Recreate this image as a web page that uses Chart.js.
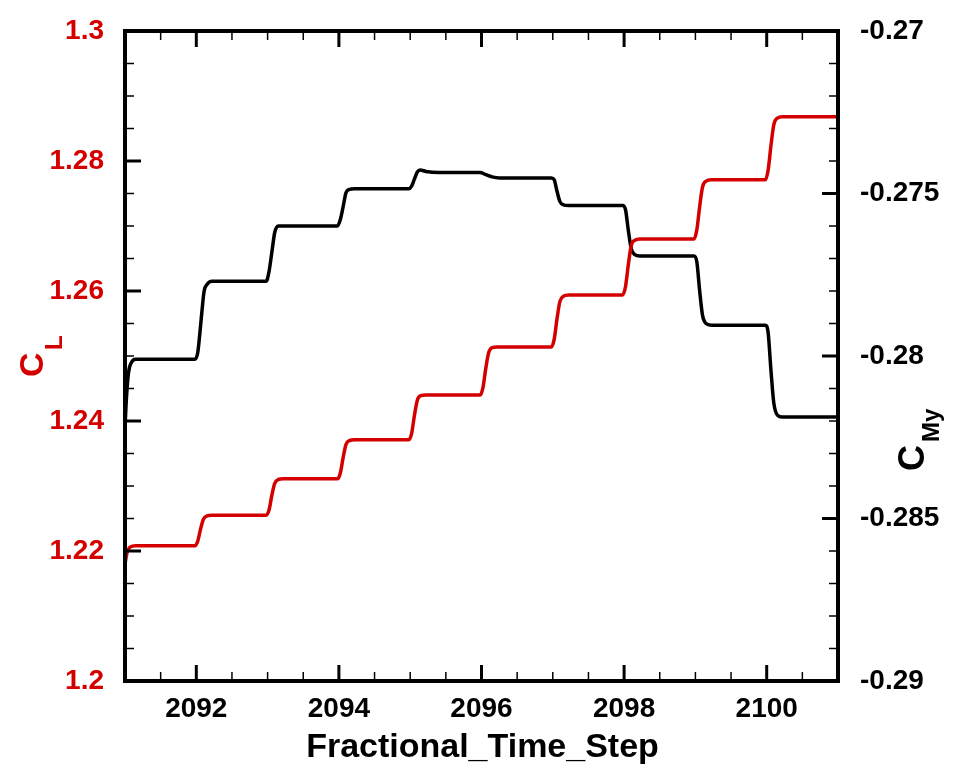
<!DOCTYPE html>
<html>
<head>
<meta charset="utf-8">
<script src="https://cdn.jsdelivr.net/npm/chart.js@4.4.0/dist/chart.umd.min.js"></script>
<style>
  body { margin: 0; background: #fff; }
</style>
</head>
<body>
<canvas id="lineChart" width="959" height="766"></canvas>
<script>
// lift coefficient C_L (left axis)
var tCL = [2091.00, 2091.03, 2091.07, 2091.15,
  2091.98, 2092.02, 2092.06, 2092.10, 2092.15, 2092.22,
  2092.98, 2093.02, 2093.06, 2093.10, 2093.15, 2093.22,
  2093.98, 2094.02, 2094.06, 2094.10, 2094.15, 2094.22,
  2094.98, 2095.02, 2095.06, 2095.10, 2095.15, 2095.22,
  2095.98, 2096.02, 2096.06, 2096.10, 2096.15, 2096.22,
  2096.98, 2097.02, 2097.06, 2097.10, 2097.15, 2097.22,
  2097.98, 2098.02, 2098.06, 2098.10, 2098.15, 2098.22,
  2098.98, 2099.02, 2099.06, 2099.10, 2099.15, 2099.22,
  2099.98, 2100.02, 2100.06, 2100.10, 2100.15, 2100.22,
  2101.00];
var cl = [1.2180, 1.2198, 1.2206, 1.2208,
  1.2208, 1.2215, 1.2234, 1.2249, 1.2254, 1.2255,
  1.2255, 1.2263, 1.2286, 1.2304, 1.2310, 1.2311,
  1.2311, 1.2320, 1.2344, 1.2364, 1.2370, 1.2371,
  1.2371, 1.2381, 1.2409, 1.2432, 1.2439, 1.2440,
  1.2440, 1.2451, 1.2481, 1.2505, 1.2513, 1.2514,
  1.2514, 1.2526, 1.2558, 1.2584, 1.2592, 1.2594,
  1.2594, 1.2607, 1.2641, 1.2670, 1.2678, 1.2680,
  1.2680, 1.2694, 1.2730, 1.2760, 1.2769, 1.2771,
  1.2771, 1.2786, 1.2824, 1.2856, 1.2866, 1.2868,
  1.2868];

// pitching moment C_My (right axis)
var tCMy = [2091.00, 2091.02, 2091.05, 2091.09, 2091.15,
  2091.98, 2092.02, 2092.05, 2092.08, 2092.11, 2092.15, 2092.22,
  2092.98, 2093.02, 2093.06, 2093.10, 2093.15, 2093.22,
  2093.98, 2094.02, 2094.06, 2094.10, 2094.15, 2094.22,
  2094.98, 2095.02, 2095.06, 2095.10, 2095.14, 2095.22, 2095.40,
  2095.98, 2096.05, 2096.15, 2096.25,
  2096.98, 2097.02, 2097.06, 2097.10, 2097.15, 2097.22,
  2097.98, 2098.02, 2098.06, 2098.10, 2098.15, 2098.22,
  2098.98, 2099.02, 2099.06, 2099.10, 2099.15, 2099.22,
  2099.98, 2100.02, 2100.06, 2100.10, 2100.15, 2100.22,
  2101.00];
var cmy = [-0.2822, -0.2813, -0.2805, -0.2802, -0.2801,
  -0.2801, -0.2799, -0.2793, -0.2786, -0.2780, -0.2778, -0.2777,
  -0.2777, -0.2774, -0.2768, -0.2762, -0.2760, -0.2760,
  -0.2760, -0.2758, -0.2754, -0.27497, -0.27487, -0.27485,
  -0.27485, -0.27477, -0.27455, -0.27434, -0.27428, -0.27432, -0.27435,
  -0.27435, -0.27441, -0.27449, -0.27452,
  -0.27452, -0.27458, -0.27494, -0.27525, -0.27535, -0.27537,
  -0.27537, -0.27550, -0.27615, -0.27670, -0.27688, -0.27692,
  -0.27692, -0.27710, -0.27800, -0.27875, -0.27900, -0.27905,
  -0.27905, -0.27928, -0.28045, -0.28145, -0.28182, -0.28188,
  -0.28188];

var xTicks = [2092, 2094, 2096, 2098, 2100];
var clTicks = [1.2, 1.22, 1.24, 1.26, 1.28, 1.3];
var cmyTicks = [-0.29, -0.285, -0.28, -0.275, -0.27];

var RED = '#d40000';
var FONT = "'Liberation Sans', Arial, sans-serif";

function pts(xs, ys) {
  return xs.map(function (v, i) { return { x: v, y: ys[i] }; });
}
function fmt(v) { return String(+v.toFixed(4)); }
function noPad(s) {
  s.paddingTop = 0; s.paddingBottom = 0; s.paddingLeft = 0; s.paddingRight = 0;
}

// inward ticks, frame and the subscripted axis titles
var frame = {
  id: 'frame',
  afterDraw: function (chart) {
    var c = chart.ctx, a = chart.chartArea;
    var sx = chart.scales.x, sl = chart.scales.y, sr = chart.scales.y2;
    var v, p;
    c.save();
    c.strokeStyle = '#000';
    c.lineCap = 'butt';

    function tick(x1, y1, x2, y2, w) {
      c.lineWidth = w;
      c.beginPath(); c.moveTo(x1, y1); c.lineTo(x2, y2); c.stroke();
    }
    // x axis: minor every 0.5, major every 2
    for (v = 2091.5; v < 2101; v += 0.5) {
      p = sx.getPixelForValue(v);
      var major = xTicks.indexOf(v) >= 0;
      var len = major ? 16 : 9, w = major ? 3 : 1.5;
      tick(p, a.bottom, p, a.bottom - len, w);
      tick(p, a.top, p, a.top + len, w);
    }
    // left axis: minor every 0.005
    for (v = 1.205; v < 1.3; v += 0.005) {
      p = sl.getPixelForValue(v);
      var mj = Math.abs(v * 100 - Math.round(v * 100)) < 1e-6 && Math.round(v * 100) % 2 === 0;
      tick(a.left, p, a.left + (mj ? 16 : 9), p, mj ? 3 : 1.5);
    }
    // right axis: minor every 0.001
    for (v = -0.289; v < -0.2705; v += 0.001) {
      p = sr.getPixelForValue(v);
      var k = Math.round(v * 1000);
      var mr = k % 5 === 0;
      tick(a.right, p, a.right - (mr ? 16 : 9), p, mr ? 3 : 1.5);
    }
    // frame
    c.lineWidth = 4;
    c.strokeRect(a.left, a.top, a.right - a.left, a.bottom - a.top);

    // C_L title
    c.fillStyle = RED;
    c.textBaseline = 'alphabetic';
    c.textAlign = 'left';
    c.save();
    c.translate(43, 377);
    c.rotate(-Math.PI / 2);
    c.font = 'bold 34px ' + FONT;
    c.fillText('C', 0, 0);
    c.font = 'bold 24px ' + FONT;
    c.fillText('L', 27, 19);
    c.restore();

    // C_My title
    c.fillStyle = '#000';
    c.save();
    c.translate(924, 471);
    c.rotate(-Math.PI / 2);
    c.font = 'bold 36px ' + FONT;
    c.fillText('C', 0, 0);
    c.font = 'bold 24px ' + FONT;
    c.fillText('My', 29, 15);
    c.restore();

    // x title
    c.textAlign = 'center';
    c.font = 'bold 34px ' + FONT;
    c.fillText('Fractional_Time_Step', (a.left + a.right) / 2 + 1, 757);
    c.restore();
  }
};

var ctx = document.getElementById('lineChart').getContext('2d');
var myChart = new Chart(ctx, {
  type: 'line',
  data: {
    datasets: [{
      label: 'CL',
      data: pts(tCL, cl),
      yAxisID: 'y',
      borderColor: RED,
      borderWidth: 3.5,
      pointRadius: 0,
      cubicInterpolationMode: 'monotone',
      fill: false
    }, {
      label: 'CMy',
      data: pts(tCMy, cmy),
      yAxisID: 'y2',
      borderColor: '#000',
      borderWidth: 3.5,
      pointRadius: 0,
      cubicInterpolationMode: 'monotone',
      fill: false
    }]
  },
  options: {
    responsive: false,
    animation: false,
    layout: { padding: { top: 31, left: 0, right: 0, bottom: 0 } },
    plugins: { legend: { display: false }, tooltip: { enabled: false } },
    scales: {
      x: {
        type: 'linear',
        position: 'bottom',
        min: 2091, max: 2101,
        afterBuildTicks: function (s) { s.ticks = xTicks.map(function (v) { return { value: v }; }); },
        afterFit: function (s) { s.height = 85; noPad(s); },
        grid: { display: false, drawTicks: false },
        border: { display: false },
        ticks: {
          padding: 11, color: '#000', maxRotation: 0,
          font: { family: FONT, size: 28, weight: 'bold' },
          callback: function (v) { return String(v); }
        }
      },
      y: {
        type: 'linear',
        position: 'left',
        min: 1.2, max: 1.3,
        afterBuildTicks: function (s) { s.ticks = clTicks.map(function (v) { return { value: v }; }); },
        afterFit: function (s) { s.width = 125; noPad(s); },
        grid: { display: false, drawTicks: false },
        border: { display: false },
        ticks: {
          padding: 21, color: RED,
          font: { family: FONT, size: 28, weight: 'bold' },
          callback: fmt
        }
      },
      y2: {
        type: 'linear',
        position: 'right',
        min: -0.29, max: -0.27,
        afterBuildTicks: function (s) { s.ticks = cmyTicks.map(function (v) { return { value: v }; }); },
        afterFit: function (s) { s.width = 121; noPad(s); },
        grid: { display: false, drawTicks: false },
        border: { display: false },
        ticks: {
          padding: 22, color: '#000',
          font: { family: FONT, size: 28, weight: 'bold' },
          callback: fmt
        }
      }
    }
  },
  plugins: [frame]
});
</script>
</body>
</html>
